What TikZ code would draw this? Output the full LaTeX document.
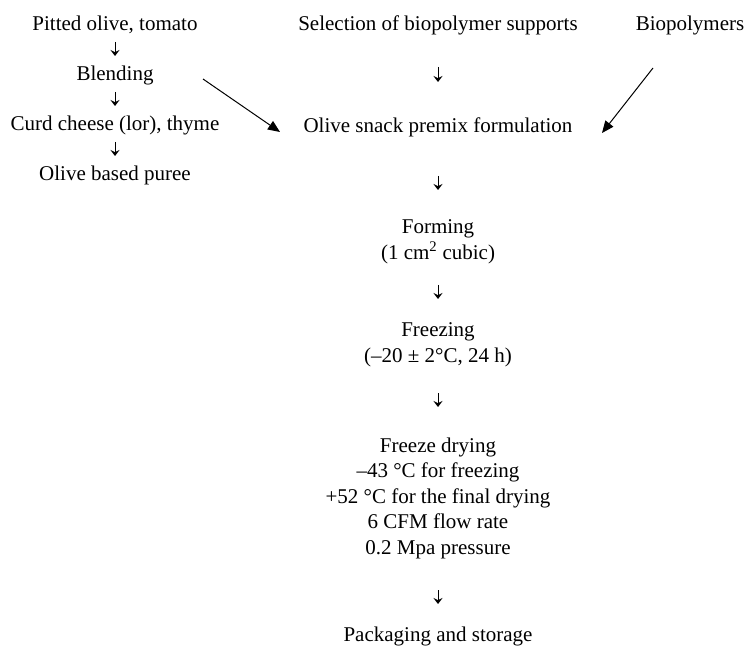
\documentclass[tikz,border=0pt]{standalone}
\usepackage{fontspec}
\setmainfont{Liberation Serif}
\usetikzlibrary{arrows.meta}

\begin{document}
\begin{tikzpicture}[x=1pt, y=-1pt, font=\fontsize{21}{25.5}\selectfont,
            every node/.style={inner sep=0pt, anchor=base, align=center},
            dn/.style={-{Stealth[length=6pt,width=9pt,inset=2.2pt]}, line width=0.9pt},
            lft/.style={dn, shorten <=11pt, shorten >=25pt},
            feed/.style={-{Triangle[length=12pt,width=10pt]}, line width=1pt}]
            \useasboundingbox (0,0) rectangle (745,647);

            % olive puree branch
            \node (pit) at (115,31) {Pitted olive, tomato};
            \node (blend) at (115,81) {Blending};
            \node (curd) at (115,131) {Curd cheese (lor), thyme};
            \node (puree) at (115,181) {Olive based puree};

            % main line (base = last line of each node)
            \node (sel) at (438,31) {Selection of biopolymer supports};
            \node (bio) at (690,31) {Biopolymers};
            \node (premix) at (438,133) {Olive snack premix formulation};
            \node (form) at (438,259.5) {Forming\\(1 cm\textsuperscript{2} cubic)};
            \node (freeze) at (438,362.5) {Freezing\\(–20 ± 2°C, 24 h)};
            \node (dry) at (438,554) {Freeze drying\\–43 °C for freezing\\+52 °C for the final drying\\6 CFM flow rate\\0.2 Mpa pressure};
            \node (pack) at (438,641) {Packaging and storage};

            \path[lft] (pit.base) edge (blend.base);
            \path[lft] (blend.base) edge (curd.base);
            \path[lft] (curd.base) edge (puree.base);

            \path[dn] (sel.base) edge [shorten <=36pt, shorten >=51pt] (premix.base);
            \path[dn] (premix.base) edge [shorten <=43pt, shorten >=69.5pt] (form.base);
            \path[dn] (form.base) edge [shorten <=25.5pt, shorten >=63.5pt] (freeze.base);
            \path[dn] (freeze.base) edge [shorten <=30.5pt, shorten >=147pt] (dry.base);
            \path[dn] (dry.base) edge [shorten <=36pt, shorten >=37pt] (pack.base);

            \draw[feed] ([shift={(88pt,2pt)}]blend.base) -- ([shift={(-158pt,1pt)}]premix.base);
            \draw[feed] ([shift={(-37pt,-37pt)}]bio.base) -- ([shift={(164pt,0pt)}]premix.base);
        \end{tikzpicture}
\end{document}
